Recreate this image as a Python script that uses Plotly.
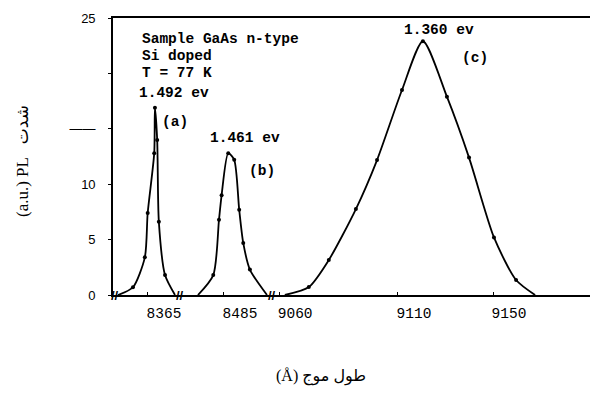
import plotly.graph_objects as go

# ---- data (wavelength in Angstrom, PL intensity in a.u.) ----
peak_a_wl = [8358.7, 8363.7, 8364.9, 8367.65, 8367.95, 8368.9, 8369.6, 8372.2]
peak_a_int = [0.7, 3.4, 7.4, 12.8, 16.9, 14.0, 6.6, 1.8]
peak_a_base = [8352.4, 8376.4]

peak_b_wl = [8480.5, 8482.9, 8484.0, 8486.8, 8489.3, 8491.4, 8493.1, 8495.9]
peak_b_int = [1.8, 6.8, 9.0, 12.8, 12.2, 7.7, 4.7, 2.3]
peak_b_base = [8474.05, 8503.1]

peak_c_wl = [9072.5, 9080.9, 9092.3, 9101.2, 9111.7, 9120.5, 9130.6, 9139.9, 9150.4, 9159.7]
peak_c_int = [0.72, 3.16, 7.76, 12.18, 18.5, 22.9, 17.9, 12.4, 5.2, 1.35]
peak_c_base = [9062.4, 9167.7]

seg_ticks = [[8365], [8485], [9060, 9110, 9150]]
seg_ranges = [[8350.3, 8378.5], [8466.5, 8505.2], [9057.0, 9190.8]]
y_tickvals = [0, 5, 10, 15, 20, 25]
y_ticktext = ["0", "5", "10", "——", "", "25"]

peaks = [(peak_a_wl, peak_a_int, peak_a_base),
         (peak_b_wl, peak_b_int, peak_b_base),
         (peak_c_wl, peak_c_int, peak_c_base)]

W, H = 590, 399
L, R, T, B = 113, 0, 18, 104
pw = W - L - R
bounds_px = [113, 180, 272, 590]
domains = [[(bounds_px[i] - L) / pw, (bounds_px[i + 1] - L) / pw] for i in range(3)]

fig = go.Figure()
axnames = ["x", "x2", "x3"]
for i, (wl, inten, base) in enumerate(peaks):
    cx = [base[0]] + wl + [base[1]]
    cy = [0] + inten + [0]
    fig.add_trace(go.Scatter(x=cx, y=cy, mode="lines", xaxis=axnames[i], yaxis="y",
                             line=dict(color="black", width=1.8, shape="spline", smoothing=0.7),
                             hoverinfo="skip", showlegend=False))
    fig.add_trace(go.Scatter(x=wl, y=inten, mode="markers", xaxis=axnames[i], yaxis="y",
                             marker=dict(color="black", size=4), showlegend=False))

mono = "Liberation Mono, Courier New, monospace"
for i in range(3):
    key = "xaxis" if i == 0 else f"xaxis{i+1}"
    fig.layout[key] = dict(domain=domains[i], range=seg_ranges[i], anchor="y",
                           showline=True, linecolor="black", linewidth=1.6, mirror=True,
                           showgrid=False, zeroline=False,
                           ticks="inside", ticklen=3, tickcolor="black",
                           tickvals=seg_ticks[i], ticktext=[str(v) for v in seg_ticks[i]],
                           tickfont=dict(family=mono, size=14.5, color="black"),
                           ticklabelshift=16, ticklabelstandoff=4)

fig.update_layout(
    width=W, height=H, margin=dict(l=L, r=R, t=T, b=B),
    paper_bgcolor="white", plot_bgcolor="white",
    yaxis=dict(range=[0, 25], anchor="x", showline=True, linecolor="black", linewidth=1.6,
               showgrid=False, zeroline=False, ticks="outside", ticklen=3, tickcolor="black",
               tickvals=y_tickvals, ticktext=y_ticktext, ticklabelstandoff=10,
               tickfont=dict(family="Liberation Sans, Arial, sans-serif", size=13, color="black")),
)

def px2paper(px, py):
    return (px - L) / pw, (H - B - py) / (H - T - B)

texts = [
    ("Sample GaAs n-type", 140, 39),
    ("Si doped", 140, 56),
    ("T = 77 K", 140, 73),
    ("1.492 ev", 137, 93),
    ("(a)", 160, 122),
    ("1.461 ev", 208, 138),
    ("(b)", 247, 171),
    ("1.360 ev", 402, 30),
    ("(c)", 460, 58),
]
for t, px, py in texts:
    xp, yp = px2paper(px, py)
    fig.add_annotation(text="<b>" + t + "</b>", x=xp, y=yp, xref="paper", yref="paper",
                       xanchor="left", yanchor="middle", showarrow=False,
                       font=dict(family=mono, size=14.5, color="black"))

# axis break marks
for i in range(3):
    fig.add_annotation(text="<b>//</b>", x=0, y=0, xref=f"{axnames[i]} domain", yref="y",
                       xanchor="center", yanchor="middle", showarrow=False, xshift=2 if i == 0 else 0,
                       font=dict(family="Liberation Sans, Arial", size=13, color="black"))

# axis titles
xp, yp = px2paper(321, 376)
fig.add_annotation(text="(Å) طول موج", x=xp, y=yp, xref="paper", yref="paper",
                   xanchor="center", yanchor="middle", showarrow=False,
                   font=dict(family="Liberation Serif, DejaVu Sans, serif", size=16, color="black"))
xp, yp = px2paper(22, 161)
fig.add_annotation(text="(a.u.) PL\u00a0\u00a0\u00a0شدت", x=xp, y=yp, xref="paper", yref="paper",
                   textangle=-90, xanchor="center", yanchor="middle", showarrow=False,
                   font=dict(family="Liberation Serif, DejaVu Sans, serif", size=17, color="black"))

fig.write_html("out.html", config={"displayModeBar": False},
               post_script="document.body.style.margin='0';document.body.style.overflow='hidden';")
